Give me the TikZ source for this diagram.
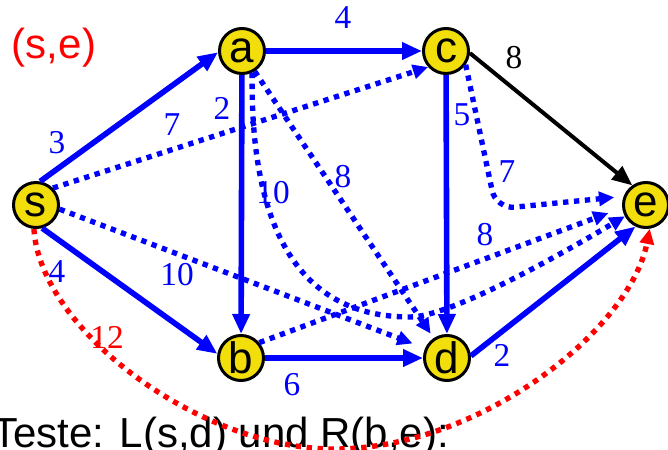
\documentclass[tikz,border=0pt]{standalone}
\usepackage{fontspec}
\setmainfont{Liberation Sans}
\newfontfamily\weightfont{Liberation Serif}
\definecolor{edgeblue}{RGB}{0,0,255}
\definecolor{testred}{RGB}{255,0,0}
\definecolor{nodefill}{RGB}{242,222,10}
\usetikzlibrary{arrows.meta, positioning}
\tikzset{
  vtx/.style={
    circle, draw=black, line width=2.25pt, fill=nodefill,
    minimum size=33.75pt, inner sep=0pt,
    font=\fontsize{33}{33}\selectfont
  },
  arr/.style={-{Triangle[length=15pt,width=12.5pt]}, line width=4.2pt, color=#1},
  arr/.default=edgeblue,
  darr/.style={-{Triangle[length=11.5pt,width=10.5pt]}, line width=4pt,
    dash pattern=on 4pt off 4.2pt, color=#1},
  darr/.default=edgeblue,
  wlbl/.style={font=\weightfont\fontsize{25}{25}\selectfont, text=#1, inner sep=0pt},
  wlbl/.default=edgeblue,
  big/.style={font=\fontsize{31.5}{31.5}\selectfont, inner sep=0pt},
}
\begin{document}
\begin{tikzpicture}[x=0.75pt, y=-0.75pt]
  \useasboundingbox (0,0) rectangle (668,450);

  % vertices
  \node[vtx] (s) at (36,205) {s};
  \node[vtx] (a) at (242,51) {a};
  \node[vtx] (c) at (446,51) {c};
  \node[vtx] (e) at (646,205) {e};
  \node[vtx] (b) at (241,358) {b};
  \node[vtx] (d) at (447,358) {d};

  \node[big, text=testred] (pair) at (54,48) {(s,e)};
  \node[big, anchor=base west] (test) at (-8,447) {Teste: L(s,d) und R(b,e):};

  % solid edges
  \draw[arr] (s.80) -- (a.183);
  \draw[arr] (s.-75) -- (b.170);
  \draw[arr] (a) -- (c);
  \draw[arr] (a) -- (b);
  \draw[arr] (c) -- (d);
  \draw[arr] (b) -- (d);
  \draw[arr] (d.5) -- (e.244);
  \draw[arr=black, line width=3pt] (c.-5) -- (e.125);

  % dotted edges
  \draw[darr] (s.45) -- (c.222);
  \draw[darr, shorten >=10pt] (s.-10) -- (d.156);
  \draw[darr, shorten >=4pt] (a.-58) -- (d.124);
  \draw[darr] (a.-65) .. controls (250,230) and (300,317) .. (410,317)
    .. controls (450,317) and (560,255) .. (e.208);
  \draw[darr, shorten >=11pt] (b.40) -- (e.187);
  \draw[darr, rounded corners=14pt, shorten >=7pt] (c.-35) -- (496,209) -- (e.159);
  \draw[darr=testred] (s.-95) .. controls (40,330) and (200,449) .. (334,449)
    .. controls (480,449) and (630,330) .. (e.-81);

  % weights
  \node[wlbl] (w-sa) at (57,143) {3};
  \node[wlbl] (w-sb) at (57,272) {4};
  \node[wlbl] (w-ac) at (343,18) {4};
  \node[wlbl] (w-ab) at (222,108) {2};
  \node[wlbl] (w-cd) at (462,115) {5};
  \node[wlbl] (w-bd) at (292,385) {6};
  \node[wlbl] (w-de) at (502,355) {2};
  \node[wlbl=black] (w-ce) at (514,58) {8};
  \node[wlbl] (w-sc) at (172,125) {7};
  \node[wlbl] (w-sd) at (177,275) {10};
  \node[wlbl] (w-ad) at (343,177) {8};
  \node[wlbl] (w-ae) at (273,193) {10};
  \node[wlbl] (w-be) at (485,235) {8};
  \node[wlbl] (w-ce2) at (507,172) {7};
  \node[wlbl=testred] (w-se) at (107,337) {12};
\end{tikzpicture}
\end{document}
